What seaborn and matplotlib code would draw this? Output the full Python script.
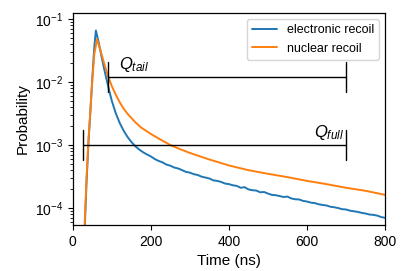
import numpy as np
import pandas as pd
import matplotlib
matplotlib.use("Agg")
import matplotlib.pyplot as plt
import matplotlib.ticker as mticker
import seaborn as sns

# ---- data ----
er_time = [20, 25, 30, 35, 40, 45, 50, 55, 59, 65, 70, 75, 80, 85, 90, 95, 100, 110, 120, 130,
           140, 150, 160, 170, 180, 190, 200, 210, 220, 230, 240, 250, 260, 270, 280, 290,
           300, 310, 320, 330, 340, 350, 360, 370, 380, 390, 400, 410, 420, 430, 440, 450,
           460, 470, 480, 490, 500, 510, 520, 530, 540, 550, 560, 570, 580, 590, 600, 610,
           620, 630, 640, 650, 660, 670, 680, 690, 700, 710, 720, 730, 740, 750, 760, 770,
           780, 790, 800]
er_prob = [3e-6, 1e-5, 4e-5, 2.5e-4, 1.1e-3, 3.5e-3, 1.2e-2, 3.6e-2, 6.6e-2, 4.6e-2, 3.3e-2,
           2.3e-2, 1.65e-2, 1.2e-2, 8.8e-3, 6.6e-3, 5.0e-3, 3.2e-3, 2.25e-3, 1.7e-3,
           1.35e-3, 1.12e-3, 9.6e-4, 8.5e-4, 7.7e-4, 7.1e-4, 6.6e-4, 6.0e-4, 5.6e-4, 5.3e-4,
           4.9e-4, 4.7e-4, 4.4e-4, 4.25e-4, 4.0e-4, 3.75e-4, 3.65e-4, 3.45e-4, 3.35e-4,
           3.15e-4, 3.05e-4, 2.95e-4, 2.75e-4, 2.7e-4, 2.6e-4, 2.45e-4, 2.4e-4, 2.3e-4,
           2.25e-4, 2.1e-4, 2.15e-4, 1.98e-4, 1.92e-4, 1.9e-4, 1.78e-4, 1.8e-4, 1.7e-4,
           1.62e-4, 1.6e-4, 1.55e-4, 1.5e-4, 1.52e-4, 1.42e-4, 1.38e-4, 1.37e-4, 1.3e-4,
           1.27e-4, 1.22e-4, 1.2e-4, 1.15e-4, 1.12e-4, 1.1e-4, 1.05e-4, 1.03e-4, 1.0e-4,
           9.6e-5, 9.5e-5, 9.1e-5, 8.9e-5, 8.7e-5, 8.4e-5, 8.2e-5, 7.9e-5, 7.8e-5, 7.6e-5,
           7.2e-5, 7.0e-5]

nr_time = [20, 25, 30, 35, 40, 45, 50, 55, 62, 70, 80, 90, 100, 110, 120, 130, 140, 150,
           160, 175, 200, 225, 250, 275, 300, 350, 400, 450, 500, 550, 600, 650, 700, 750, 800]
nr_prob = [3e-6, 1.2e-5, 5e-5, 3e-4, 1.2e-3, 3.6e-3, 1.1e-2, 2.8e-2, 4.8e-2, 3.3e-2,
           2.0e-2, 1.25e-2, 8.6e-3, 6.3e-3, 4.8e-3, 3.8e-3, 3.15e-3, 2.7e-3, 2.3e-3,
           1.9e-3, 1.5e-3, 1.22e-3, 1.0e-3, 8.6e-4, 7.5e-4, 5.9e-4, 4.75e-4, 4.0e-4,
           3.5e-4, 3.1e-4, 2.7e-4, 2.4e-4, 2.1e-4, 1.88e-4, 1.62e-4]

labels = ["electronic recoil", "nuclear recoil"]
q_tail = dict(start=90, stop=700, level=1.2e-2, label="$Q_{tail}$")
q_full = dict(start=25, stop=700, level=1.0e-3, label="$Q_{full}$")

df = pd.concat([
    pd.DataFrame({"Time (ns)": er_time, "Probability": er_prob, "kind": labels[0]}),
    pd.DataFrame({"Time (ns)": nr_time, "Probability": nr_prob, "kind": labels[1]}),
])

sns.set_style("ticks", {"axes.edgecolor": "black", "xtick.color": "black",
                        "ytick.color": "black", "text.color": "black",
                        "axes.labelcolor": "black"})
plt.rcParams["font.family"] = ["Liberation Sans", "DejaVu Sans"]
plt.rcParams["mathtext.fontset"] = "custom"
plt.rcParams["mathtext.it"] = "Liberation Sans:italic"
plt.rcParams["mathtext.rm"] = "Liberation Sans"

fig = plt.figure(figsize=(4.07, 2.71), dpi=100)
ax = fig.add_axes([0.179, 0.170, 0.767, 0.782])

sns.lineplot(data=df, x="Time (ns)", y="Probability", hue="kind",
             palette=["#1f77b4", "#ff7f0e"], linewidth=1.4, ax=ax, sort=False)
ax.set_yscale("log")
ax.set_xlim(0, 800)
ax.set_ylim(5.4e-5, 0.125)
ax.set_xticks([0, 200, 400, 600, 800])
ax.yaxis.set_minor_locator(mticker.LogLocator(base=10, subs=np.arange(2, 10), numticks=20))
ax.yaxis.set_minor_formatter(mticker.NullFormatter())
ax.tick_params(which="major", length=3.5, width=0.8, labelsize=10)
ax.tick_params(which="minor", length=2, width=0.6)
for s in ax.spines.values():
    s.set_linewidth(0.9)

for q in (q_tail, q_full):
    ax.plot([q["start"], q["stop"]], [q["level"], q["level"]], color="black", lw=1)
    for x in (q["start"], q["stop"]):
        ax.plot([x, x], [q["level"] * 1.75, q["level"] / 1.75], color="black", lw=1)

ax.text(118, q_tail["level"] * 1.12, q_tail["label"], fontsize=12, ha="left", va="bottom")
ax.text(695, q_full["level"] * 1.12, q_full["label"], fontsize=12, ha="right", va="bottom")

leg = ax.legend(loc="upper right", fontsize=9, frameon=True, handlelength=2.0)
leg.set_title(None)
ax.set_xlabel("Time (ns)", fontsize=11)
ax.set_ylabel("Probability", fontsize=11)

fig.savefig("out.png", dpi=100)
